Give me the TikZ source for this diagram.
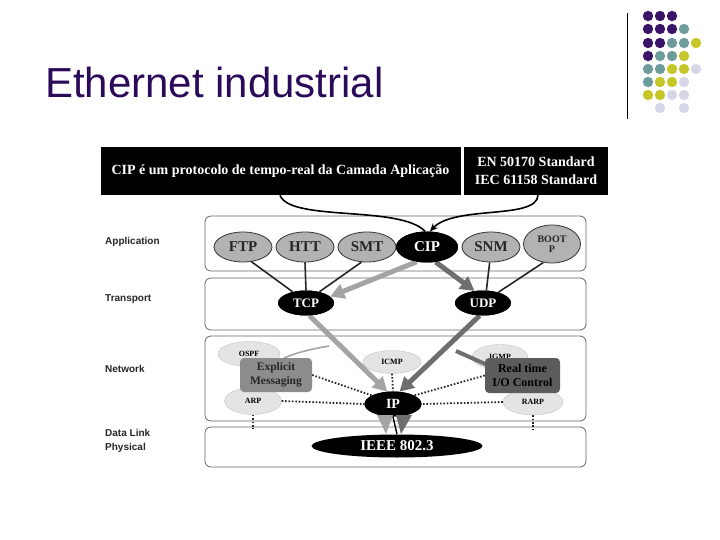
\documentclass[tikz,border=0pt]{standalone}
\usepackage{fontspec}
\setmainfont{Liberation Serif}
\setsansfont{Liberation Sans}
\usetikzlibrary{shapes.geometric,arrows.meta}
\definecolor{ttl}{HTML}{2B0A5A}
\definecolor{dpurple}{HTML}{3A1466}
\definecolor{dteal}{HTML}{6E9C9C}
\definecolor{dyellow}{HTML}{C6C628}
\definecolor{dlav}{HTML}{D6D6E6}
\definecolor{lgarrow}{HTML}{A4A4A4}
\definecolor{dgarrow}{HTML}{6E6E6E}
\definecolor{appfill}{HTML}{B2B2B2}
\definecolor{netfill}{HTML}{E4E4E4}
\definecolor{explfill}{HTML}{8C8C8C}
\definecolor{rtfill}{HTML}{5C5C5C}
\begin{document}
\begin{tikzpicture}[x=1pt,y=-1pt,
  layerbox/.style={draw=black!60,line width=0.8pt,rounded corners=6pt},
  blackbox/.style={fill=black,text=white,inner sep=0,font=\bfseries\fontsize{14}{18}\selectfont},
  appell/.style={ellipse,draw=black!80,line width=0.8pt,fill=appfill,inner sep=0,minimum width=58pt,minimum height=30pt,font=\bfseries\fontsize{15}{16}\selectfont,text=black!85},
  blkell/.style={ellipse,fill=black,text=white,inner sep=0,font=\bfseries\fontsize{14}{15}\selectfont},
  netell/.style={ellipse,draw=black!30,dash pattern=on 1pt off 0.6pt,fill=netfill,inner sep=0,minimum width=58pt,minimum height=25pt,font=\bfseries\fontsize{8}{9}\selectfont},
  layerlbl/.style={anchor=west,inner sep=0,font=\sffamily\bfseries\fontsize{10}{12}\selectfont,text=black!85},
  thinl/.style={line width=1.6pt,black!85},
  dotl/.style={line width=1.8pt,dash pattern=on 1.6pt off 1.8pt,black!85},
  bigarr/.style={line width=5pt,-{Triangle[length=14pt,width=15pt]}}
]
\useasboundingbox (0,0) rectangle (720,540);
% title
\node[anchor=base west,inner sep=0,font=\sffamily\fontsize{42}{46}\selectfont,text=ttl] (title) at (45,98) {Ethernet industrial};
% vertical rule
\draw[line width=0.9pt] (627,13) -- (627,119);
% dots
\foreach \x in {648,660,672} \fill[dpurple] (\x,16) circle (5.2pt);
\foreach \x/\c in {648/dpurple,660/dpurple,672/dpurple,684/dteal} \fill[\c] (\x,29) circle (5.2pt);
\foreach \x/\c in {648/dpurple,660/dpurple,672/dteal,684/dteal,696/dyellow} \fill[\c] (\x,43) circle (5.2pt);
\foreach \x/\c in {648/dpurple,660/dteal,672/dteal,684/dyellow} \fill[\c] (\x,56) circle (5.2pt);
\foreach \x/\c in {648/dteal,660/dteal,672/dyellow,684/dyellow,696/dlav} \fill[\c] (\x,69) circle (5.2pt);
\foreach \x/\c in {648/dteal,660/dyellow,672/dyellow,684/dlav} \fill[\c] (\x,82) circle (5.2pt);
\foreach \x/\c in {648/dyellow,660/dyellow,672/dlav,684/dlav} \fill[\c] (\x,95) circle (5.2pt);
\foreach \x in {660,684} \fill[dlav] (\x,108) circle (5.2pt);

% top black boxes
\node[blackbox,minimum width=360pt,minimum height=48pt] (cipbox) at (280.5,171) {CIP é um protocolo de tempo-real da Camada Aplicação};
\node[blackbox,minimum width=144pt,minimum height=48pt,align=center] (stdbox) at (536,171) {EN 50170 Standard\\IEC 61158 Standard};

% layer boxes
\draw[layerbox] (205,216) rectangle (586,271);
\draw[layerbox] (205,278) rectangle (586,330);
\draw[layerbox] (205,336) rectangle (586,421);
\draw[layerbox] (205,427) rectangle (586,467);
\node[layerlbl] (lapp) at (105,242) {Application};
\node[layerlbl] (ltr) at (105,299) {Transport};
\node[layerlbl] (lnet) at (105,369) {Network};
\node[layerlbl] (ldl) at (105,433) {Data Link};
\node[layerlbl] (lph) at (105,448) {Physical};

% application ellipses
\node[appell] (ftp) at (243,247) {FTP};
\node[appell] (htt) at (305,247) {HTT};
\node[appell] (smt) at (367,247) {SMT};
\node[blkell,minimum width=62pt,minimum height=31pt,font=\bfseries\fontsize{15}{16}\selectfont] (cip) at (427,247) {CIP};
\node[appell] (snm) at (491,247) {SNM};
\node[appell,minimum width=57pt,minimum height=38pt,align=center,font=\bfseries\fontsize{10}{10}\selectfont] (boot) at (552,244) {BOOT\\P};

% network small ellipses
\node[netell,minimum width=62pt] (ospf) at (249,354) {OSPF};
\node[netell,minimum width=57pt,minimum height=27pt] (arp) at (253,401) {ARP};
\node[netell,minimum height=23pt] (icmp) at (392,362) {ICMP};
\node[netell,minimum width=56pt] (igmp) at (500,357) {IGMP};
\node[netell,minimum width=60pt,minimum height=26pt] (rarp) at (533,402) {RARP};

% transport, IP and physical ellipses
\node[blkell,minimum width=56pt,minimum height=25pt,font=\bfseries\fontsize{13}{14}\selectfont] (tcp) at (306,303) {TCP};
\node[blkell,minimum width=56pt,minimum height=25pt,font=\bfseries\fontsize{13}{14}\selectfont] (udp) at (483,303) {UDP};
\node[blkell,minimum width=57pt,minimum height=25pt] (ip) at (393,404) {IP};
\node[blkell,minimum width=171pt,minimum height=23pt,font=\bfseries\fontsize{15}{16}\selectfont] (ieee) at (397,446) {IEEE 802.3};

% application to transport lines
\draw[thinl] (ftp.-60) -- (tcp.140);
\draw[thinl] (htt.south) -- (tcp.north);
\draw[thinl] (smt.-110) -- (tcp.40);
\draw[thinl] (snm.-95) -- (udp.75);
\draw[thinl] (boot.-115) -- (udp.35);

% curved connectors from top boxes
\draw[line width=1.6pt] ([xshift=-0.5pt]cipbox.south) .. controls (290,222) and (400,205) .. ([xshift=-2pt]cip.north);
\draw[line width=1.6pt,-{Stealth[length=8pt,width=7pt]}] ([xshift=2pt]stdbox.south) .. controls (537,220) and (455,205) .. ([xshift=3pt]cip.north);

% explicit messaging / real time links
\coordinate (tcpipmid) at (329,346);
\draw[lgarrow,line width=1.6pt] (284,358) .. controls (298,352) and (312,349) .. (tcpipmid);
\coordinate (udpipmid) at (456,351);
\draw[dgarrow,line width=4pt] (udpipmid) -- (494,368);

% boxes on network layer
\node[fill=explfill,rounded corners=4pt,minimum width=72pt,minimum height=34pt,align=center,inner sep=0,font=\bfseries\fontsize{11.5}{14}\selectfont,text=black!85] (expl) at (276,375) {Explicit\\Messaging};
\node[fill=rtfill,rounded corners=4pt,minimum width=75pt,minimum height=35pt,align=center,inner sep=0,font=\bfseries\fontsize{12}{14}\selectfont] (rt) at (522.5,375.5) {Real time\\I/O Control};

% big arrows
\draw[bigarr,lgarrow] (cip.-125) -- (tcp.15);
\draw[bigarr,dgarrow] (cip.-60) -- (udp.125);
\draw[bigarr,lgarrow] (tcp.-75) -- (ip.115);
\draw[bigarr,dgarrow] (udp.-105) -- (ip.62);

% redraw CIP/TCP/UDP/IP on top of arrows
\node[blkell,minimum width=62pt,minimum height=31pt,font=\bfseries\fontsize{15}{16}\selectfont] at (cip) {CIP};
\node[blkell,minimum width=56pt,minimum height=25pt,font=\bfseries\fontsize{13}{14}\selectfont] at (tcp) {TCP};
\node[blkell,minimum width=56pt,minimum height=25pt,font=\bfseries\fontsize{13}{14}\selectfont] at (udp) {UDP};
\node[blkell,minimum width=57pt,minimum height=25pt] at (ip) {IP};
% arrows through IP to IEEE
\fill[lgarrow] (377,415) -- (393,415) -- (386,434) -- cycle;
\fill[dgarrow] (396,415) -- (412,415) -- (401,434) -- cycle;
\draw[line width=1.4pt] (ip.south) -- (ieee.north);

% dotted connectors
\draw[dotl] (expl.east) -- (ip.158);
\draw[dotl] (arp.east) -- (ip.west);
\draw[dotl] (icmp.south) -- (ip.north);
\draw[dotl] (rt.west) -- (ip.22);
\draw[dotl] (rarp.west) -- (ip.east);
\coordinate (arpdl) at (253,429);
\coordinate (rarpdl) at (533,429);
\draw[dotl,line width=1.4pt] (arp.south) -- (arpdl);
\draw[dotl,line width=1.4pt] (rarp.south) -- (rarpdl);
\end{tikzpicture}
\end{document}
